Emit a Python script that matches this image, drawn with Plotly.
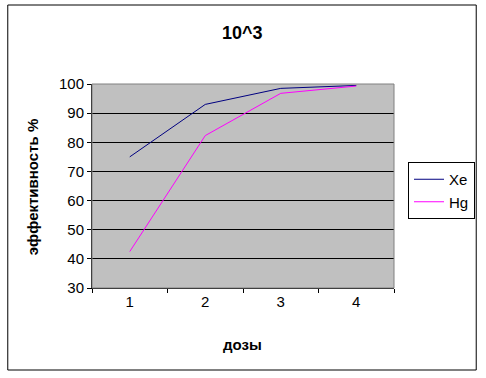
import plotly.graph_objects as go

doses = ["1", "2", "3", "4"]
xe = [75, 93, 98.5, 99.5]
hg = [42.5, 82.3, 96.8, 99.3]
y_ticks = [30, 40, 50, 60, 70, 80, 90, 100]

fig = go.Figure()
fig.add_trace(go.Scatter(x=doses, y=xe, name="Xe", mode="lines",
                         line=dict(color="#000080", width=1)))
fig.add_trace(go.Scatter(x=doses, y=hg, name="Hg", mode="lines",
                         line=dict(color="#FF00FF", width=1)))

L, R, T, B = 92, 91, 84, 90
W, H = 486, 378
pw, ph = W - L - R, H - T - B

def px_x(x):
    return (x - L) / pw

def px_y(y):
    return 1 - (y - T) / ph

font = "Liberation Sans, Arial, sans-serif"

fig.update_layout(
    width=W, height=H,
    margin=dict(l=L, r=R, t=T, b=B, pad=0),
    paper_bgcolor="white",
    plot_bgcolor="#C0C0C0",
    font=dict(family=font, size=15, color="black"),
    showlegend=True,
    legend=dict(x=px_x(408), y=px_y(162), xanchor="left", yanchor="top",
                bordercolor="black", borderwidth=1, bgcolor="white",
                font=dict(size=15), itemwidth=30, tracegroupgap=0),
    xaxis=dict(type="category", range=[-0.5, 3.5], tickson="boundaries",
               ticks="outside", ticklen=4, tickcolor="black",
               showgrid=False, showline=True, linecolor="black", linewidth=1,
               zeroline=False, tickfont=dict(size=15)),
    yaxis=dict(range=[30, 100], tickvals=y_ticks, ticks="outside", ticklen=4,
               tickcolor="black", showgrid=True, gridcolor="black", gridwidth=1,
               showline=True, linecolor="black", linewidth=1, zeroline=False,
               tickfont=dict(size=15)),
    shapes=[
        dict(type="rect", xref="paper", yref="paper", x0=0, x1=1, y0=0, y1=1,
             line=dict(color="#808080", width=1), layer="above"),
        dict(type="rect", xref="paper", yref="paper",
             x0=px_x(7.5), x1=px_x(477.5), y0=px_y(370), y1=px_y(5),
             line=dict(color="black", width=1)),
    ],
    annotations=[
        dict(text="<b>10^3</b>", xref="paper", yref="paper", x=px_x(243), y=px_y(33),
             showarrow=False, font=dict(size=18), xanchor="center", yanchor="middle"),
        dict(text="<b>дозы</b>", xref="paper", yref="paper", x=px_x(243), y=px_y(344),
             showarrow=False, font=dict(size=15), xanchor="center", yanchor="middle"),
        dict(text="<b>эффективность %</b>", xref="paper", yref="paper", x=px_x(32), y=px_y(187),
             showarrow=False, font=dict(size=15), textangle=-90,
             xanchor="center", yanchor="middle"),
    ],
)

fig.write_html("out.html", config={"displayModeBar": False},
               post_script="document.body.style.margin='0';")
